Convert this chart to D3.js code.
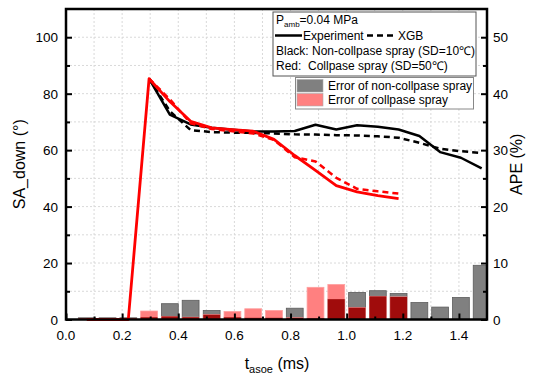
<!DOCTYPE html>
<html>
<head>
<meta charset="utf-8">
<script src="https://cdn.jsdelivr.net/npm/d3@7"></script>
<style>
  body { margin: 0; background: #fff; }
  text { font-family: "Liberation Sans", Arial, sans-serif; fill: #000; }
</style>
</head>
<body>
<svg id="chart" width="534" height="376"></svg>
<script>
// time after start of injection (ms), one frame each
const tasoe = [0.074, 0.148, 0.222, 0.296, 0.370, 0.444, 0.519, 0.593, 0.667, 0.741,
               0.815, 0.889, 0.963, 1.037, 1.111, 1.185, 1.259, 1.333, 1.407, 1.481]

// SA_down (deg)
const blackExp = [null, null, null, 85.3, 72.6, 69.1, 67.9, 67.2, 66.6, 66.6,
                  66.8, 69.0, 67.3, 68.8, 68.3, 67.3, 65.0, 59.3, 57.3, 53.5]
const blackXgb = [null, null, null, 85.3, 73.8, 67.1, 66.4, 66.2, 66.1, 65.9,
                  65.6, 65.5, 65.3, 65.2, 64.9, 64.4, 62.6, 60.5, 59.6, 59.0]
const redExp = [0, 0, 0, 85.3, 77.2, 70.2, 67.9, 67.3, 66.7, 63.8,
                58.1, 52.8, 47.4, 45.2, 43.9, 42.8]
const redXgb = [null, null, null, 85.3, 78.0, 69.5, 67.5, 66.7, 65.9, 63.6,
                57.5, 56.0, 50.2, 46.3, 45.4, 44.6]

// APE (%)
const errNonCollapse = [0.3, 0.3, 0.3, 0.4, 2.8, 3.4, 1.6, 0.4, 0.3, 0.3,
                        2.0, 0.2, 3.6, 4.8, 5.1, 4.6, 3.0, 2.2, 3.9, 9.6]
const errCollapse = [0.2, 0.2, 0.2, 1.5, 0.55, 0.4, 0.85, 1.4, 1.9, 1.6,
                     0.3, 5.7, 6.2, 2.1, 4.1, 4.0]

const xTicks = [0, 0.2, 0.4, 0.6, 0.8, 1.0, 1.2, 1.4]
const yTicks = [0, 20, 40, 60, 80, 100]
const y2Ticks = [0, 10, 20, 30, 40, 50]

const svg = d3.select('#chart')
const L = 66, R = 487, T = 9, B = 319.5

const x = d3.scaleLinear().domain([0, 1.5]).range([L, R])
const y = d3.scaleLinear().domain([0, 110]).range([B, T])
const y2 = d3.scaleLinear().domain([0, 55]).range([B, T])

svg.append('rect').attr('width', 534).attr('height', 376).attr('fill', '#fff')

svg.append('clipPath').attr('id', 'plot')
  .append('rect').attr('x', L).attr('y', T).attr('width', R - L).attr('height', B - T)

// grid
const grid = svg.append('g').attr('stroke', '#d9d9d9').attr('stroke-width', 1).attr('stroke-dasharray', '2,2')
grid.selectAll('.gx').data(d3.range(1, 15).map(i => i / 10)).enter().append('line')
  .attr('x1', d => x(d)).attr('x2', d => x(d)).attr('y1', T).attr('y2', B)
grid.selectAll('.gy').data(d3.range(1, 11).map(i => i * 10)).enter().append('line')
  .attr('x1', L).attr('x2', R).attr('y1', d => y(d)).attr('y2', d => y(d))

// bars
const bw = x(0.06) - x(0)
const bars = svg.append('g').attr('clip-path', 'url(#plot)')
bars.selectAll('.bg').data(errNonCollapse).enter().append('rect')
  .attr('x', (d, i) => x(tasoe[i]) - bw / 2).attr('width', bw)
  .attr('y', d => y2(d)).attr('height', d => B - y2(d))
  .attr('fill', '#808080').attr('stroke', '#5c5c5c').attr('stroke-width', 0.8)
bars.selectAll('.br').data(errCollapse).enter().append('rect')
  .attr('x', (d, i) => x(tasoe[i]) - bw / 2).attr('width', bw)
  .attr('y', d => y2(d)).attr('height', d => B - y2(d))
  .attr('fill', '#ff8080').attr('stroke', '#ff9f9f').attr('stroke-width', 0.8)
bars.selectAll('.bo').data(errCollapse).enter().append('rect')
  .attr('x', (d, i) => x(tasoe[i]) - bw / 2).attr('width', bw)
  .attr('y', (d, i) => y2(Math.min(d, errNonCollapse[i])))
  .attr('height', (d, i) => B - y2(Math.min(d, errNonCollapse[i])))
  .attr('fill', '#a00c0c')

// lines
const line = d3.line().defined(d => d[1] != null).x(d => x(d[0])).y(d => y(d[1]))
const pts = arr => arr.map((v, i) => [tasoe[i], v])
const lines = svg.append('g').attr('fill', 'none').attr('stroke-linejoin', 'round')
lines.append('path').attr('d', line(pts(blackXgb))).attr('stroke', '#000').attr('stroke-width', 2.5).attr('stroke-dasharray', '6,4')
lines.append('path').attr('d', line(pts(blackExp))).attr('stroke', '#000').attr('stroke-width', 2.5)
lines.append('path').attr('d', line(pts(redXgb))).attr('stroke', '#ff0000').attr('stroke-width', 2.5).attr('stroke-dasharray', '6,4')
lines.append('path').attr('d', line(pts(redExp))).attr('stroke', '#ff0000').attr('stroke-width', 2.8)

// axes (ticks inward)
const ax = svg.append('g')
ax.append('g').attr('transform', `translate(0,${B})`)
  .call(d3.axisTop(x).tickValues(d3.range(1, 15).filter(i => i % 2).map(i => i / 10)).tickSize(3).tickFormat(''))
ax.append('g').attr('transform', `translate(0,${B})`)
  .call(d3.axisTop(x).tickValues(xTicks).tickSize(6).tickFormat(''))
ax.append('g').attr('transform', `translate(${L},0)`)
  .call(d3.axisRight(y).tickValues([10, 30, 50, 70, 90]).tickSize(4).tickFormat(''))
ax.append('g').attr('transform', `translate(${L},0)`)
  .call(d3.axisRight(y).tickValues(yTicks).tickSize(6).tickFormat(''))
ax.append('g').attr('transform', `translate(${R},0)`)
  .call(d3.axisLeft(y2).tickValues([5, 15, 25, 35, 45]).tickSize(4).tickFormat(''))
ax.append('g').attr('transform', `translate(${R},0)`)
  .call(d3.axisLeft(y2).tickValues(y2Ticks).tickSize(6).tickFormat(''))
ax.selectAll('.domain').remove()
ax.selectAll('.tick line').attr('stroke', '#000').attr('stroke-width', 2)

svg.append('rect').attr('x', L).attr('y', T).attr('width', R - L).attr('height', B - T)
  .attr('fill', 'none').attr('stroke', '#000').attr('stroke-width', 2.5)

// tick labels
svg.append('g').selectAll('text').data(xTicks).enter().append('text')
  .attr('x', d => x(d)).attr('y', 340).attr('text-anchor', 'middle').attr('font-size', 13.5)
  .text(d => d.toFixed(1))
svg.append('g').selectAll('text').data(yTicks).enter().append('text')
  .attr('x', 58).attr('y', d => y(d) + 5).attr('text-anchor', 'end').attr('font-size', 13.5)
  .text(d => d)
svg.append('g').selectAll('text').data(y2Ticks).enter().append('text')
  .attr('x', 493).attr('y', d => y2(d) + 5).attr('font-size', 13.5)
  .text(d => d)

// axis titles
const xt = svg.append('text').attr('x', 277).attr('y', 369).attr('text-anchor', 'middle').attr('font-size', 16)
xt.append('tspan').text('t')
xt.append('tspan').attr('font-size', 11).attr('dy', 4).text('asoe')
xt.append('tspan').attr('dy', -4).text(' (ms)')
svg.append('text').attr('transform', `translate(25,${(T + B) / 2}) rotate(-90)`)
  .attr('text-anchor', 'middle').attr('font-size', 16).text('SA_down (°)')
svg.append('text').attr('transform', `translate(522,${(T + B) / 2}) rotate(-90)`)
  .attr('text-anchor', 'middle').attr('font-size', 16).text('APE (%)')

// legend 1
const lg = svg.append('g').attr('font-size', 12)
lg.append('rect').attr('x', 273).attr('y', 12).attr('width', 203).attr('height', 64)
  .attr('fill', '#fff').attr('stroke', '#555').attr('stroke-width', 1)
const p = lg.append('text').attr('x', 276).attr('y', 24)
p.append('tspan').text('P')
p.append('tspan').attr('font-size', 8).attr('dy', 3).text('amb')
p.append('tspan').attr('dy', -3).text('=0.04 MPa')
lg.append('line').attr('x1', 275).attr('x2', 302).attr('y1', 35.5).attr('y2', 35.5).attr('stroke', '#000').attr('stroke-width', 2.5)
lg.append('text').attr('x', 303).attr('y', 40).text('Experiment')
lg.append('line').attr('x1', 367).attr('x2', 397).attr('y1', 35.5).attr('y2', 35.5).attr('stroke', '#000').attr('stroke-width', 2.5).attr('stroke-dasharray', '6,4')
lg.append('text').attr('x', 398).attr('y', 40).text('XGB')
lg.append('text').attr('x', 276).attr('y', 55).text('Black: Non-collpase spray (SD=10℃)')
lg.append('text').attr('x', 276).attr('y', 70).text('Red:  Collpase spray (SD=50℃)').attr('xml:space', 'preserve')

// legend 2
const lg2 = svg.append('g').attr('font-size', 12)
lg2.append('rect').attr('x', 295.5).attr('y', 77.5).attr('width', 178).attr('height', 31.5)
  .attr('fill', '#fff').attr('stroke', '#888').attr('stroke-width', 1)
lg2.append('rect').attr('x', 297).attr('y', 79.5).attr('width', 26).attr('height', 12.5).attr('fill', '#808080').attr('stroke', '#aaa').attr('stroke-width', 0.6)
lg2.append('rect').attr('x', 297).attr('y', 93.5).attr('width', 26).attr('height', 12.5).attr('fill', '#ff8080').attr('stroke', '#aaa').attr('stroke-width', 0.6)
lg2.append('text').attr('x', 328).attr('y', 90).text('Error of non-collpase spray')
lg2.append('text').attr('x', 328).attr('y', 104).text('Error of collpase spray')
</script>
</body>
</html>
